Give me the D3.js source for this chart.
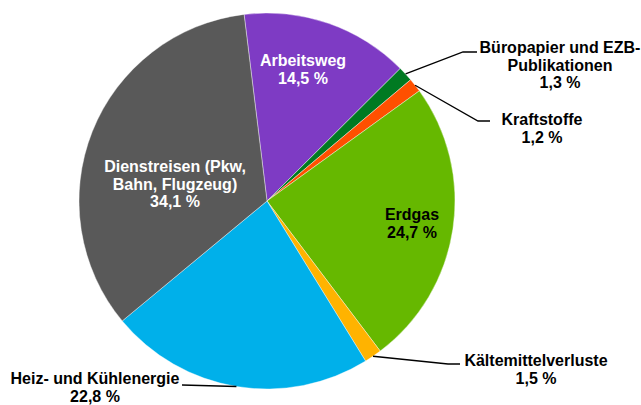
<!DOCTYPE html>
<html>
<head>
<meta charset="utf-8">
<script src="https://cdn.jsdelivr.net/npm/d3@7"></script>
<style>
  body { margin: 0; background: #fff; }
  text { font-family: "Liberation Sans", Arial, sans-serif; font-weight: bold; font-size: 16px; }
</style>
</head>
<body>
<div id="chart"></div>
<script>
var categories = ["Arbeitsweg", "Büropapier und EZB-Publikationen", "Kraftstoffe", "Erdgas",
                  "Kältemittelverluste", "Heiz- und Kühlenergie", "Dienstreisen (Pkw, Bahn, Flugzeug)"];
var values = [14.5, 1.3, 1.2, 24.7, 1.5, 22.8, 34.1];
var colors = ["#7e3bc4", "#007a22", "#ff5000", "#66b800", "#ffb300", "#00b0ea", "#595959"];
var labelLines = [["Arbeitsweg"], ["Büropapier und EZB-", "Publikationen"], ["Kraftstoffe"], ["Erdgas"],
                  ["Kältemittelverluste"], ["Heiz- und Kühlenergie"], ["Dienstreisen (Pkw,", "Bahn, Flugzeug)"]];

function createChart()
{
    var width = 641, height = 405,
    cx = 267, cy = 201, radius = 188;
    var lineH = 17.5;

    // label anchor (x = centre of text, y = first baseline), leader elbow for outside labels
    var labelPos = [
        {x: 303, y: 66, fill: "#fff"},
        {x: 560, y: 53, fill: "#000", elbow: [463, 52], end: 477},
        {x: 542, y: 125, fill: "#000", elbow: [478, 121], end: 490},
        {x: 412, y: 220, fill: "#000"},
        {x: 536, y: 366, fill: "#000", elbow: [448, 364], end: 460},
        {x: 95, y: 384, fill: "#000", elbow: [182, 385], end: 182},
        {x: 175, y: 172, fill: "#fff"}
    ];

    var svg = d3.select("#chart").append("svg")
    .attr("width", width)
    .attr("height", height);

    var g = svg.append("g")
    .attr("transform", "translate(" + cx + "," + cy + ")");

    var pie = d3.pie().sort(null)
    .startAngle(-7 * Math.PI / 180)
    .endAngle(353 * Math.PI / 180)
    .value(d => d);

    var arcs = pie(values);
    var arc = d3.arc().innerRadius(0).outerRadius(radius);

    g.selectAll("path.slice")
    .data(arcs)
    .enter().append("path")
    .attr("class", "slice")
    .attr("d", arc)
    .style("fill", (d, i) => colors[i])
    .style("stroke", "#fff")
    .style("stroke-width", 0.4);

    var fmt = v => String(v).replace(".", ",") + " %";

    arcs.forEach((d, i) => {
        var p = labelPos[i];
        if (p.elbow) {
            var mid = (d.startAngle + d.endAngle) / 2;
            var sx = cx + radius * Math.sin(mid), sy = cy - radius * Math.cos(mid);
            var pts = [[sx, sy], p.elbow, [p.end, p.elbow[1]]];
            svg.append("path")
            .attr("d", d3.line()(pts))
            .style("fill", "none")
            .style("stroke", "#000")
            .style("stroke-width", 1.3);
        }
        var t = svg.append("text")
        .attr("text-anchor", "middle")
        .style("fill", p.fill);
        var lines = labelLines[i].concat([fmt(values[i])]);
        lines.forEach((s, k) => {
            t.append("tspan")
            .attr("x", p.x)
            .attr("y", p.y + k * lineH)
            .text(s);
        });
    });
}

createChart();
</script>
</body>
</html>
